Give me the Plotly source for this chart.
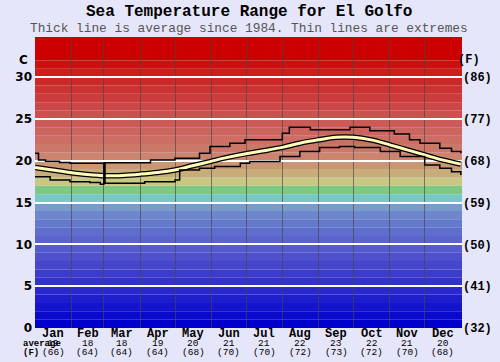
import plotly.graph_objects as go

# ---------------- data ----------------
months = ["Jan", "Feb", "Mar", "Apr", "May", "Jun", "Jul", "Aug", "Sep", "Oct", "Nov", "Dec"]
month_mid_day = [15.5, 45, 74.5, 105, 135.5, 166, 196.5, 227.5, 258, 288.5, 319, 349.5]
month_start_day = [31, 59, 90, 120, 151, 181, 212, 243, 273, 304, 334]
avg_c_label = ["19", "18", "18", "19", "20", "21", "21", "22", "23", "22", "21", "20"]
avg_f_label = ["(66)", "(64)", "(64)", "(64)", "(68)", "(70)", "(70)", "(72)", "(73)", "(72)", "(70)", "(68)"]

avg_day = [0, 15, 30, 45, 60, 75, 90, 105, 120, 135, 150, 165, 181, 196, 212, 227, 243, 258,
           273, 288, 304, 319, 334, 349, 365]
avg_temp = [19.2, 18.9, 18.6, 18.35, 18.2, 18.25, 18.4, 18.6, 18.9, 19.4, 19.9, 20.4, 20.85,
            21.2, 21.6, 22.1, 22.5, 22.8, 22.8, 22.5, 21.9, 21.3, 20.7, 20.1, 19.6]

max_day = [0, 3, 9, 21, 30, 56, 60, 99, 120, 141, 150, 167, 180, 212, 218, 236, 270, 287,
           308, 321, 330, 347, 357, 365]
max_temp = [20.9, 20.1, 19.95, 19.8, 19.7, 19.7, 19.75, 20.1, 20.3, 20.9, 21.7, 22.1, 22.5,
            23.3, 24.0, 23.7, 24.0, 23.6, 23.2, 22.5, 22.1, 21.5, 21.1, 20.9]

min_day = [0, 13, 30, 47, 56, 59, 60, 94, 120, 124, 141, 154, 176, 184, 210, 227, 244, 261,
           274, 296, 313, 334, 347, 357, 365]
min_temp = [18.1, 17.7, 17.5, 17.4, 17.2, 19.7, 17.3, 17.5, 17.7, 18.9, 19.1, 19.3, 19.7, 19.9,
            20.5, 21.1, 21.6, 21.7, 21.6, 21.1, 20.5, 19.5, 19.1, 18.7, 18.3]

c_ticks = [0, 5, 10, 15, 20, 25, 30]
f_ticks = ["(32)", "(41)", "(50)", "(59)", "(68)", "(77)", "(86)"]

# colour bands, one per degree C starting at 0 (last one covers the top)
band_colors = [
    "rgb(0,0,204)", "rgb(10,10,204)", "rgb(20,20,204)", "rgb(30,30,204)", "rgb(40,40,204)",
    "rgb(50,50,204)", "rgb(60,60,204)", "rgb(70,70,204)", "rgb(78,80,204)", "rgb(85,90,204)",
    "rgb(90,100,204)", "rgb(95,110,204)", "rgb(100,120,204)", "rgb(110,135,204)", "rgb(120,155,204)",
    "rgb(120,200,200)", "rgb(125,200,130)", "rgb(200,200,130)", "rgb(200,172,122)", "rgb(202,150,115)",
    "rgb(204,132,110)", "rgb(204,120,105)", "rgb(204,110,100)", "rgb(204,100,95)", "rgb(204,90,88)",
    "rgb(204,80,80)", "rgb(204,70,70)", "rgb(204,60,60)", "rgb(204,50,50)", "rgb(204,40,40)",
    "rgb(204,30,30)", "rgb(204,15,15)", "rgb(204,0,0)",
]

Y_TOP = 34.8
X_END = 366

fig = go.Figure()

# invisible trace to activate right axis
fig.add_trace(go.Scatter(x=[0], y=[0], yaxis="y2", mode="markers",
                         marker=dict(opacity=0), showlegend=False, hoverinfo="skip"))

# average line: black outline + pale yellow core
fig.add_trace(go.Scatter(x=avg_day, y=avg_temp, mode="lines", line=dict(color="black", width=5.5, shape="spline"),
                         showlegend=False, hoverinfo="skip"))
fig.add_trace(go.Scatter(x=avg_day, y=avg_temp, mode="lines", line=dict(color="rgb(255,255,185)", width=3, shape="spline"),
                         showlegend=False))
fig.add_trace(go.Scatter(x=max_day, y=max_temp, mode="lines", line=dict(color="black", width=1.5, shape="hv"),
                         showlegend=False))
fig.add_trace(go.Scatter(x=min_day, y=min_temp, mode="lines", line=dict(color="black", width=1.5, shape="hv"),
                         showlegend=False))

shapes = []
for i, col in enumerate(band_colors):
    y1 = i + 1 if i < len(band_colors) - 1 else Y_TOP
    shapes.append(dict(type="rect", xref="x", yref="y", x0=0, x1=X_END, y0=i, y1=y1,
                       fillcolor=col, line=dict(width=0), layer="below"))

annotations = [
    dict(text="<b>Sea Temperature Range for El Golfo</b>", xref="paper", yref="paper", x=0.5, y=1,
         yanchor="middle", yshift=25, showarrow=False,
         font=dict(family="Liberation Mono", size=16, color="black")),
    dict(text="Thick line is average since 1984. Thin lines are extremes", xref="paper", yref="paper",
         x=0.5, y=1, yanchor="middle", yshift=9, showarrow=False,
         font=dict(family="Liberation Mono", size=12.8, color="rgb(85,85,85)")),
    dict(text="<b>C</b>", xref="paper", yref="y", x=0, y=32, xshift=-18, showarrow=False,
         font=dict(family="DejaVu Sans", size=12, color="black")),
    dict(text="<b>(F)</b>", xref="paper", yref="y", x=1, y=32, xshift=20, showarrow=False,
         font=dict(family="Liberation Mono", size=12, color="black")),
    dict(text="<b>average</b>", xref="paper", yref="paper", x=0, y=0, xshift=-13, yshift=-15.5,
         yanchor="middle", showarrow=False, borderpad=0,
         font=dict(family="Liberation Mono", size=9, color="black")),
    dict(text="<b>(F)</b>", xref="paper", yref="paper", x=0, y=0, xshift=-13, yshift=-24.5,
         yanchor="middle", showarrow=False, borderpad=0,
         font=dict(family="Liberation Mono", size=9, color="black")),
]
for d, m in zip(month_mid_day, months):
    annotations.append(dict(text="<b>" + m + "</b>", xref="x", yref="paper", x=d, y=0, yshift=-6,
                            yanchor="middle", showarrow=False, borderpad=0,
                            font=dict(family="Liberation Mono", size=12, color="black")))
for d, c, f in zip(month_mid_day, avg_c_label, avg_f_label):
    annotations.append(dict(text=c, xref="x", yref="paper", x=d, y=0, yshift=-15.5, yanchor="middle",
                            showarrow=False, borderpad=0,
                            font=dict(family="Liberation Mono", size=9.5, color="black")))
    annotations.append(dict(text=f, xref="x", yref="paper", x=d, y=0, yshift=-24.5, yanchor="middle",
                            showarrow=False, borderpad=0,
                            font=dict(family="Liberation Mono", size=9.5, color="black")))

fig.update_layout(
    width=500, height=362,
    margin=dict(l=35, r=38, t=37, b=34, autoexpand=False),
    paper_bgcolor="rgb(230,230,250)",
    plot_bgcolor="rgb(230,230,250)",
    showlegend=False,
    shapes=shapes,
    annotations=annotations,
    xaxis=dict(range=[0, X_END], tickvals=month_mid_day, ticktext=months, showgrid=False,
               showticklabels=False, zeroline=False, ticks="",
               minor=dict(tickvals=month_start_day, showgrid=True, gridcolor="rgba(70,70,70,0.65)",
                          gridwidth=1, ticks=""),
               fixedrange=True),
    yaxis=dict(range=[0, Y_TOP], tickvals=c_ticks, showgrid=True, gridcolor="white", gridwidth=1.5,
               zeroline=False, ticks="", ticklabelstandoff=2,
               tickfont=dict(family="DejaVu Sans", size=12, color="black", weight="bold")),
    yaxis2=dict(range=[0, Y_TOP], overlaying="y", side="right", tickvals=c_ticks, ticktext=f_ticks,
                showgrid=False, zeroline=False, ticks="",
                tickfont=dict(family="Liberation Mono", size=12, color="black", weight="bold")),
)

# remove the default page margin so the figure sits at the window's top-left corner
fig.write_html("out.html", post_script="document.body.style.margin='0';",
               config={"displayModeBar": False})
